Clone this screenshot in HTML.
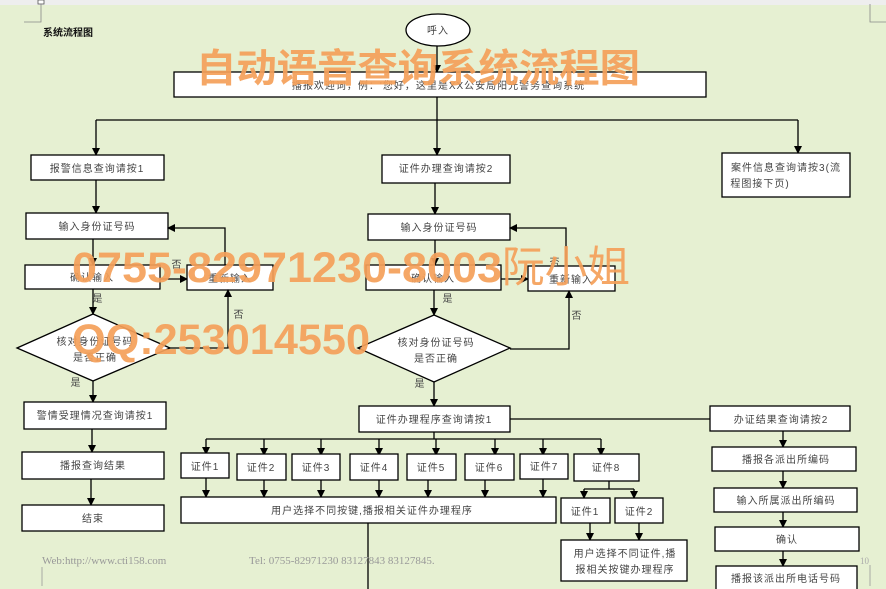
<!DOCTYPE html>
<html><head><meta charset="utf-8"><style>
html,body{margin:0;padding:0;background:#e6f0d2;}
svg{display:block;}
.b{fill:#fff;stroke:#000;stroke-width:1.3;}
.t{font-family:"Liberation Sans","Noto Sans CJK SC",sans-serif;font-size:10px;fill:#444;text-anchor:middle;letter-spacing:1px;}
.l{stroke:#000;stroke-width:1.3;fill:none;}
.w{font-family:"Liberation Sans","Noto Sans CJK SC",sans-serif;font-weight:bold;fill:#f5a05a;opacity:0.92;}
.f{font-family:"Liberation Serif",serif;font-size:11px;fill:#999;}
</style></head><body>
<svg width="886" height="589" viewBox="0 0 886 589" xmlns="http://www.w3.org/2000/svg">
<defs><marker id="a" markerWidth="8" markerHeight="8" refX="7" refY="4" orient="auto" markerUnits="userSpaceOnUse"><path d="M0,0 L8,4 L0,8 z" fill="#000"/></marker></defs>
<rect x="0" y="0" width="886" height="5" fill="#eeeeee"/>
<rect x="38" y="0" width="6" height="4" fill="#fff" stroke="#555" stroke-width="0.8"/>
<path d="M41,4 V22 H24" stroke="#888" fill="none" stroke-width="0.8"/>
<path d="M870,4 V22 H886" stroke="#888" fill="none" stroke-width="0.8"/>
<text x="43" y="36" style="font-family:'Liberation Sans','Noto Sans CJK SC',sans-serif;font-size:10px;font-weight:bold;fill:#111">系统流程图</text>

<ellipse cx="438" cy="30" rx="32" ry="16" fill="#fff" stroke="#000" stroke-width="1.3"/>
<text class="t" x="438" y="34">呼入</text>
<line class="l" x1="437" y1="46" x2="437" y2="72" marker-end="url(#a)"/>
<rect class="b" x="174" y="72" width="532" height="25"/>
<text class="t" x="440" y="89">播报欢迎词，例：'您好，这里是XX公安局阳光警务查询系统'</text>
<line class="l" x1="437" y1="97" x2="437" y2="155" marker-end="url(#a)"/>
<path class="l" d="M96,120 H798"/>
<line class="l" x1="96" y1="120" x2="96" y2="155" marker-end="url(#a)"/>
<line class="l" x1="798" y1="120" x2="798" y2="153" marker-end="url(#a)"/>

<rect class="b" x="31" y="155" width="133" height="25"/>
<text class="t" x="97" y="172">报警信息查询请按1</text>
<rect class="b" x="382" y="155" width="128" height="28"/>
<text class="t" x="446" y="172">证件办理查询请按2</text>
<rect class="b" x="722" y="153" width="128" height="44"/>
<text class="t" x="786" y="171">案件信息查询请按3(流</text>
<text class="t" x="760" y="187">程图接下页)</text>

<line class="l" x1="96" y1="180" x2="96" y2="213" marker-end="url(#a)"/>
<rect class="b" x="26" y="213" width="142" height="26"/>
<text class="t" x="97" y="230">输入身份证号码</text>
<line class="l" x1="93" y1="239" x2="93" y2="265" marker-end="url(#a)"/>
<rect class="b" x="25" y="265" width="135" height="24"/>
<text class="t" x="92" y="281">确认输入</text>
<line class="l" x1="160" y1="279" x2="187" y2="279" marker-end="url(#a)"/>
<text class="t" x="177" y="268">否</text>
<rect class="b" x="187" y="265" width="86" height="25"/>
<text class="t" x="230" y="282">重新输入</text>
<path class="l" d="M225,265 V228 H168" marker-end="url(#a)"/>
<text class="t" x="98" y="302">是</text>
<line class="l" x1="93" y1="289" x2="93" y2="314" marker-end="url(#a)"/>
<polygon class="b" points="17,348 93,314 170,348 93,381"/>
<text class="t" x="95" y="345">核对身份证号码</text>
<text class="t" x="95" y="361">是否正确</text>
<path class="l" d="M170,348 H228 V290" marker-end="url(#a)"/>
<text class="t" x="239" y="318">否</text>
<text class="t" x="76" y="386">是</text>
<line class="l" x1="93" y1="381" x2="93" y2="402" marker-end="url(#a)"/>
<rect class="b" x="24" y="402" width="142" height="27"/>
<text class="t" x="95" y="419">警情受理情况查询请按1</text>
<line class="l" x1="92" y1="429" x2="92" y2="452" marker-end="url(#a)"/>
<rect class="b" x="22" y="452" width="142" height="27"/>
<text class="t" x="93" y="469">播报查询结果</text>
<line class="l" x1="91" y1="479" x2="91" y2="505" marker-end="url(#a)"/>
<rect class="b" x="22" y="505" width="142" height="26"/>
<text class="t" x="93" y="522">结束</text>

<line class="l" x1="435" y1="183" x2="435" y2="214" marker-end="url(#a)"/>
<rect class="b" x="368" y="214" width="142" height="26"/>
<text class="t" x="439" y="231">输入身份证号码</text>
<line class="l" x1="435" y1="240" x2="435" y2="265" marker-end="url(#a)"/>
<rect class="b" x="366" y="265" width="135" height="25"/>
<text class="t" x="433" y="282">确认输入</text>
<line class="l" x1="501" y1="279" x2="528" y2="279" marker-end="url(#a)"/>
<rect class="b" x="528" y="266" width="87" height="25"/>
<text class="t" x="571" y="283">重新输入</text>
<path class="l" d="M566,266 V228 H510" marker-end="url(#a)"/>
<text class="t" x="555" y="266">否</text>
<text class="t" x="448" y="302">是</text>
<line class="l" x1="434" y1="290" x2="434" y2="315" marker-end="url(#a)"/>
<polygon class="b" points="358,348 434,315 510,348 434,382"/>
<text class="t" x="436" y="346">核对身份证号码</text>
<text class="t" x="436" y="362">是否正确</text>
<path class="l" d="M510,349 H569 V291" marker-end="url(#a)"/>
<text class="t" x="577" y="319">否</text>
<text class="t" x="420" y="387">是</text>
<line class="l" x1="434" y1="382" x2="434" y2="406" marker-end="url(#a)"/>
<rect class="b" x="359" y="406" width="151" height="26"/>
<text class="t" x="434" y="423">证件办理程序查询请按1</text>
<line class="l" x1="510" y1="419" x2="710" y2="419"/>
<line class="l" x1="434" y1="432" x2="434" y2="439"/>
<path class="l" d="M206,439 H601"/>
<g>
<line class="l" x1="206" y1="439" x2="206" y2="454" marker-end="url(#a)"/>
<line class="l" x1="264" y1="439" x2="264" y2="455" marker-end="url(#a)"/>
<line class="l" x1="321" y1="439" x2="321" y2="455" marker-end="url(#a)"/>
<line class="l" x1="379" y1="439" x2="379" y2="455" marker-end="url(#a)"/>
<line class="l" x1="436" y1="439" x2="436" y2="455" marker-end="url(#a)"/>
<line class="l" x1="495" y1="439" x2="495" y2="455" marker-end="url(#a)"/>
<line class="l" x1="543" y1="439" x2="543" y2="455" marker-end="url(#a)"/>
<line class="l" x1="601" y1="439" x2="601" y2="455" marker-end="url(#a)"/>
</g>
<rect class="b" x="181" y="453" width="48" height="25"/><text class="t" x="205" y="470">证件1</text>
<rect class="b" x="237" y="454" width="49" height="26"/><text class="t" x="261" y="471">证件2</text>
<rect class="b" x="292" y="454" width="48" height="26"/><text class="t" x="316" y="471">证件3</text>
<rect class="b" x="350" y="454" width="48" height="26"/><text class="t" x="374" y="471">证件4</text>
<rect class="b" x="407" y="454" width="49" height="26"/><text class="t" x="431" y="471">证件5</text>
<rect class="b" x="465" y="454" width="49" height="26"/><text class="t" x="489" y="471">证件6</text>
<rect class="b" x="520" y="454" width="48" height="25"/><text class="t" x="544" y="470">证件7</text>
<rect class="b" x="574" y="454" width="65" height="27"/><text class="t" x="606" y="471">证件8</text>
<g>
<line class="l" x1="206" y1="478" x2="206" y2="497" marker-end="url(#a)"/>
<line class="l" x1="264" y1="480" x2="264" y2="497" marker-end="url(#a)"/>
<line class="l" x1="321" y1="480" x2="321" y2="497" marker-end="url(#a)"/>
<line class="l" x1="379" y1="480" x2="379" y2="497" marker-end="url(#a)"/>
<line class="l" x1="428" y1="480" x2="428" y2="497" marker-end="url(#a)"/>
<line class="l" x1="485" y1="480" x2="485" y2="497" marker-end="url(#a)"/>
<line class="l" x1="543" y1="479" x2="543" y2="497" marker-end="url(#a)"/>
</g>
<rect class="b" x="181" y="497" width="375" height="26"/>
<text class="t" x="372" y="514">用户选择不同按键,播报相关证件办理程序</text>
<line class="l" x1="368" y1="523" x2="368" y2="589"/>
<line class="l" x1="609" y1="481" x2="609" y2="489"/>
<path class="l" d="M584,489 H634"/>
<line class="l" x1="584" y1="489" x2="584" y2="498" marker-end="url(#a)"/>
<line class="l" x1="634" y1="489" x2="634" y2="498" marker-end="url(#a)"/>
<rect class="b" x="561" y="498" width="49" height="25"/><text class="t" x="585" y="515">证件1</text>
<rect class="b" x="615" y="498" width="48" height="25"/><text class="t" x="639" y="515">证件2</text>
<line class="l" x1="590" y1="523" x2="590" y2="540" marker-end="url(#a)"/>
<line class="l" x1="639" y1="523" x2="639" y2="540" marker-end="url(#a)"/>
<rect class="b" x="561" y="540" width="126" height="41"/>
<text class="t" x="625" y="557">用户选择不同证件,播</text>
<text class="t" x="625" y="573">报相关按键办理程序</text>

<rect class="b" x="710" y="406" width="140" height="25"/>
<text class="t" x="781" y="423">办证结果查询请按2</text>
<line class="l" x1="783" y1="431" x2="783" y2="447" marker-end="url(#a)"/>
<rect class="b" x="712" y="447" width="144" height="24"/>
<text class="t" x="786" y="463">播报各派出所编码</text>
<line class="l" x1="783" y1="471" x2="783" y2="488" marker-end="url(#a)"/>
<rect class="b" x="714" y="488" width="143" height="24"/>
<text class="t" x="786" y="504">输入所属派出所编码</text>
<line class="l" x1="783" y1="512" x2="783" y2="527" marker-end="url(#a)"/>
<rect class="b" x="715" y="527" width="144" height="24"/>
<text class="t" x="787" y="543">确认</text>
<line class="l" x1="783" y1="551" x2="783" y2="566" marker-end="url(#a)"/>
<rect class="b" x="716" y="566" width="141" height="30"/>
<text class="t" x="786" y="582">播报该派出所电话号码</text>
<text x="860" y="564" style="font-family:'Liberation Serif',serif;font-size:9px;fill:#aaa">10</text>
<line x1="870" y1="565" x2="870" y2="586" stroke="#999" stroke-width="0.8"/>

<text class="f" x="42" y="564">Web:http://www.cti158.com</text>
<text class="f" x="249" y="564">Tel: 0755-82971230 83127843 83127845.</text>
<line x1="42" y1="567" x2="42" y2="586" stroke="#999" stroke-width="0.8"/>

<text class="w" x="196" y="82" style="font-size:39px" textLength="444" lengthAdjust="spacingAndGlyphs">自动语音查询系统流程图</text>
<text class="w" x="72" y="282" style="font-size:43px" textLength="430" lengthAdjust="spacingAndGlyphs">0755-82971230-8003</text>
<text class="w" x="502" y="282" style="font-size:43px;font-weight:normal" textLength="128" lengthAdjust="spacingAndGlyphs">阮小姐</text>
<text class="w" x="72" y="354" style="font-size:43px" textLength="298" lengthAdjust="spacingAndGlyphs">QQ:253014550</text>
</svg>
</body></html>
